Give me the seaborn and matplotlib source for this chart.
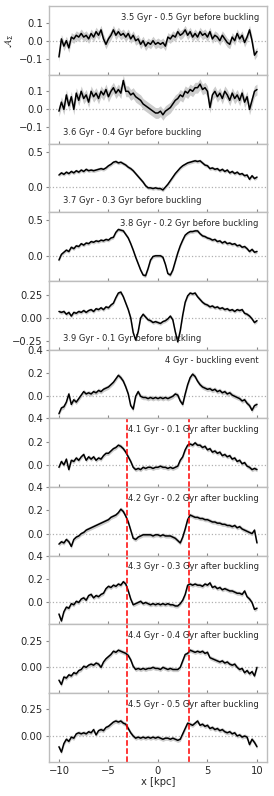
import numpy as np
import pandas as pd
import matplotlib
matplotlib.use("Agg")
import matplotlib.pyplot as plt
import seaborn as sns

# sample positions along the bar major axis [kpc]
x_kpc = np.arange(-10, 10.001, 0.25)

labels = [
    "3.5 Gyr - 0.5 Gyr before buckling",
    "3.6 Gyr - 0.4 Gyr before buckling",
    "3.7 Gyr - 0.3 Gyr before buckling",
    "3.8 Gyr - 0.2 Gyr before buckling",
    "3.9 Gyr - 0.1 Gyr before buckling",
    "4 Gyr - buckling event",
    "4.1 Gyr - 0.1 Gyr after buckling",
    "4.2 Gyr - 0.2 Gyr after buckling",
    "4.3 Gyr - 0.3 Gyr after buckling",
    "4.4 Gyr - 0.4 Gyr after buckling",
    "4.5 Gyr - 0.5 Gyr after buckling",
]

a_35 = [-0.09, 0.01, -0.03, 0.0, -0.04, 0.02, 0.01, 0.03, 0.02, 0.04, 0.02, 0.03, 0.01, 0.04, 0.02, 0.05,
        0.03, 0.06, 0.01, -0.02, 0.01, 0.03, 0.06, 0.03, 0.05, 0.03, 0.04, 0.02, 0.04, 0.01, 0.03, 0.0,
        0.01, -0.02, 0.0, -0.03, -0.01, -0.02, 0.0, -0.02, -0.01, -0.02, -0.01, -0.03, 0.02, 0.01, 0.03,
        0.02, 0.05, 0.03, 0.04, 0.06, 0.03, 0.05, 0.02, 0.04, 0.02, 0.05, 0.03, 0.04, 0.02, 0.05, 0.01,
        0.03, 0.02, 0.0, 0.03, 0.01, -0.01, -0.02, 0.02, 0.0, 0.04, 0.01, 0.03, -0.01, 0.02, 0.06, 0.0,
        -0.08, -0.06]
a_36 = [-0.01, 0.04, 0.0, 0.08, 0.02, 0.07, 0.0, 0.09, 0.05, 0.1, 0.06, 0.08, 0.04, 0.1, 0.07, 0.09,
        0.06, 0.1, 0.08, 0.11, 0.07, 0.1, 0.12, 0.09, 0.11, 0.09, 0.16, 0.1, 0.1, 0.08, 0.09, 0.07,
        0.06, 0.05, 0.03, 0.02, 0.01, 0.0, -0.01, -0.02, -0.02, -0.01, -0.03, -0.01, 0.0, 0.01, 0.03,
        0.05, 0.06, 0.08, 0.07, 0.1, 0.09, 0.11, 0.1, 0.12, 0.12, 0.14, 0.11, 0.12, 0.1, 0.01, 0.08,
        0.1, 0.07, 0.09, 0.06, 0.1, 0.08, 0.05, 0.09, 0.06, 0.08, 0.05, 0.09, 0.04, 0.07, 0.0, 0.05,
        0.1, 0.11]
a_37 = [0.17, 0.2, 0.18, 0.21, 0.19, 0.22, 0.2, 0.23, 0.21, 0.24, 0.22, 0.25, 0.23, 0.24, 0.23, 0.24,
        0.25, 0.26, 0.25, 0.27, 0.3, 0.32, 0.35, 0.36, 0.34, 0.35, 0.33, 0.31, 0.28, 0.26, 0.23, 0.19,
        0.15, 0.11, 0.07, 0.02, -0.01, -0.01, -0.02, -0.01, -0.02, -0.02, -0.04, 0.0, 0.04, 0.09, 0.14,
        0.19, 0.23, 0.27, 0.3, 0.32, 0.34, 0.35, 0.36, 0.37, 0.36, 0.37, 0.34, 0.31, 0.3, 0.26, 0.27,
        0.25, 0.26, 0.23, 0.25, 0.22, 0.24, 0.2, 0.22, 0.19, 0.21, 0.18, 0.19, 0.16, 0.17, 0.11, 0.16,
        0.12, 0.14]
a_38 = [-0.06, 0.02, 0.05, 0.08, 0.06, 0.12, 0.1, 0.14, 0.13, 0.17, 0.15, 0.18, 0.17, 0.2, 0.19, 0.21,
        0.2, 0.22, 0.21, 0.23, 0.22, 0.25, 0.26, 0.33, 0.37, 0.36, 0.35, 0.3, 0.25, 0.17, 0.08, -0.02,
        -0.11, -0.2, -0.27, -0.28, -0.18, -0.06, -0.01, 0.0, 0.0, 0.0, -0.02, -0.12, -0.25, -0.27, -0.2,
        -0.08, 0.04, 0.14, 0.22, 0.29, 0.32, 0.34, 0.34, 0.35, 0.35, 0.31, 0.28, 0.27, 0.25, 0.24, 0.22,
        0.23, 0.2, 0.21, 0.18, 0.2, 0.17, 0.18, 0.16, 0.17, 0.14, 0.15, 0.12, 0.13, 0.1, 0.06, 0.09,
        0.05, 0.06]
a_39 = [0.07, 0.06, 0.07, 0.04, 0.06, 0.02, 0.06, 0.05, 0.07, 0.06, 0.08, 0.06, 0.08, 0.09, 0.07, 0.1,
        0.09, 0.11, 0.09, 0.12, 0.11, 0.14, 0.16, 0.22, 0.27, 0.28, 0.23, 0.16, 0.09, 0.0, -0.16, -0.24,
        -0.15, 0.0, 0.04, 0.01, -0.02, -0.03, -0.05, -0.04, -0.05, -0.06, -0.04, -0.03, -0.01, 0.02,
        -0.02, -0.15, -0.26, -0.14, 0.03, 0.17, 0.24, 0.27, 0.26, 0.27, 0.23, 0.2, 0.17, 0.15, 0.14,
        0.12, 0.13, 0.11, 0.12, 0.1, 0.11, 0.09, 0.1, 0.08, 0.09, 0.07, 0.09, 0.08, 0.09, 0.05, 0.04,
        0.02, -0.01, -0.05, -0.03]
a_40 = [-0.15, -0.1, -0.09, -0.05, 0.02, -0.07, -0.03, -0.05, -0.02, 0.01, 0.04, 0.02, 0.03, 0.02, 0.04,
        0.03, 0.05, 0.04, 0.06, 0.07, 0.08, 0.1, 0.12, 0.15, 0.18, 0.16, 0.13, 0.08, 0.02, -0.08, -0.11,
        0.0, 0.04, 0.0, -0.01, -0.01, -0.02, -0.01, -0.02, -0.01, -0.02, -0.01, -0.02, -0.01, -0.02,
        -0.01, 0.0, 0.02, 0.01, -0.04, -0.07, 0.02, 0.1, 0.16, 0.19, 0.17, 0.13, 0.1, 0.08, 0.07, 0.06,
        0.065, 0.05, 0.06, 0.04, 0.05, 0.03, 0.04, 0.02, 0.03, 0.01, 0.0, -0.01, -0.02, -0.04, -0.03,
        -0.06, -0.08, -0.12, -0.08, -0.07]
a_41 = [-0.02, 0.03, 0.0, 0.05, -0.04, 0.04, 0.03, 0.06, 0.04, 0.07, 0.09, 0.04, 0.07, 0.05, 0.07, 0.04,
        0.06, 0.05, 0.08, 0.1, 0.1, 0.12, 0.14, 0.15, 0.17, 0.16, 0.14, 0.11, 0.07, 0.03, -0.02, -0.04,
        -0.03, -0.04, -0.02, -0.03, -0.02, -0.02, -0.03, -0.02, -0.02, -0.01, -0.02, -0.02, -0.03,
        -0.02, -0.03, -0.02, -0.01, 0.04, 0.07, 0.13, 0.17, 0.18, 0.17, 0.19, 0.17, 0.17, 0.15, 0.16,
        0.13, 0.14, 0.11, 0.12, 0.1, 0.11, 0.08, 0.09, 0.07, 0.08, 0.05, 0.06, 0.03, 0.04, 0.01, 0.02,
        -0.01, -0.02, -0.04, -0.03, -0.04]
a_42 = [-0.09, -0.07, -0.08, -0.05, -0.07, -0.11, -0.05, -0.03, -0.02, 0.0, 0.01, 0.03, 0.04, 0.05, 0.06,
        0.07, 0.08, 0.09, 0.1, 0.11, 0.12, 0.14, 0.15, 0.16, 0.18, 0.21, 0.19, 0.15, 0.1, 0.03, -0.04,
        -0.05, -0.03, -0.02, -0.01, -0.01, -0.01, -0.01, -0.02, -0.01, -0.01, -0.02, -0.01, -0.02,
        -0.02, -0.02, -0.03, -0.04, -0.06, -0.08, -0.03, 0.04, 0.12, 0.16, 0.15, 0.14, 0.14, 0.13, 0.13,
        0.12, 0.12, 0.11, 0.1, 0.1, 0.09, 0.09, 0.08, 0.08, 0.07, 0.07, 0.06, 0.07, 0.05, 0.06, 0.04,
        0.03, 0.02, 0.01, 0.0, 0.03, -0.08]
a_43 = [-0.1, -0.16, -0.08, -0.04, -0.05, -0.01, -0.02, 0.01, 0.0, 0.03, 0.04, 0.02, 0.06, 0.07, 0.04,
        0.06, 0.05, 0.07, 0.08, 0.12, 0.14, 0.13, 0.15, 0.14, 0.16, 0.15, 0.18, 0.16, 0.1, 0.03, -0.02,
        -0.01, 0.0, 0.01, -0.01, 0.0, -0.01, -0.02, -0.01, -0.02, -0.01, -0.02, -0.01, -0.02, -0.01,
        -0.02, -0.02, -0.03, -0.03, -0.01, 0.02, 0.07, 0.15, 0.16, 0.15, 0.16, 0.15, 0.15, 0.14, 0.16,
        0.15, 0.17, 0.13, 0.14, 0.12, 0.13, 0.11, 0.12, 0.11, 0.1, 0.1, 0.09, 0.08, 0.08, 0.07, 0.1,
        0.05, 0.03, 0.0, -0.06, -0.05]
a_44 = [-0.12, -0.16, -0.09, -0.1, -0.07, -0.08, -0.05, -0.06, -0.03, -0.02, 0.01, 0.0, 0.02, 0.03, 0.02,
        0.04, 0.03, 0.0, 0.05, 0.08, 0.1, 0.12, 0.15, 0.14, 0.16, 0.15, 0.14, 0.13, 0.11, 0.07, 0.01,
        -0.02, -0.01, -0.02, -0.01, -0.02, -0.01, -0.01, 0.0, -0.01, -0.01, -0.02, 0.0, -0.01, -0.02,
        -0.01, -0.02, -0.02, -0.02, 0.0, 0.06, 0.12, 0.13, 0.16, 0.15, 0.14, 0.15, 0.14, 0.15, 0.13,
        0.14, 0.09, 0.08, 0.07, 0.06, 0.05, 0.06, 0.04, 0.05, 0.03, 0.02, 0.03, 0.0, -0.02, -0.01,
        -0.05, -0.03, -0.06, -0.04, -0.08, 0.0]
a_45 = [-0.1, -0.15, -0.07, -0.03, -0.05, -0.01, -0.02, 0.02, 0.03, 0.02, 0.03, 0.02, 0.04, 0.03, 0.06,
        0.01, 0.05, 0.06, 0.05, 0.08, 0.09, 0.11, 0.13, 0.14, 0.13, 0.14, 0.12, 0.11, 0.07, 0.03, 0.0,
        -0.02, -0.01, -0.02, -0.01, -0.02, -0.01, -0.02, -0.01, -0.02, -0.01, -0.02, -0.03, -0.02,
        -0.02, -0.03, -0.02, -0.03, -0.04, -0.03, 0.02, 0.07, 0.12, 0.11, 0.1, 0.12, 0.14, 0.1, 0.11,
        0.09, 0.1, 0.07, 0.08, 0.06, 0.07, 0.05, 0.06, 0.04, 0.03, 0.04, 0.02, 0.03, 0.0, 0.01, -0.01,
        0.0, -0.01, -0.08, -0.03, -0.06, -0.1]

profiles = [a_35, a_36, a_37, a_38, a_39, a_40, a_41, a_42, a_43, a_44, a_45]
# typical half-width of the shaded uncertainty band in each snapshot
band_err = [0.025, 0.03, 0.025, 0.025, 0.02, 0.02, 0.018, 0.018, 0.018, 0.02, 0.02]
bar_edge = 3.1  # kpc, marked after buckling

ylims = [(-0.19, 0.19), (-0.19, 0.19), (-0.355, 0.61), (-0.355, 0.61), (-0.345, 0.40),
         (-0.19, 0.40), (-0.19, 0.40), (-0.19, 0.40), (-0.19, 0.405), (-0.24, 0.40), (-0.24, 0.40)]
yticks = [[-0.1, 0.0, 0.1], [-0.1, 0.0, 0.1], [0.0, 0.5], [0.0, 0.5], [-0.25, 0.0, 0.25],
          [0.0, 0.2, 0.4], [0.0, 0.2, 0.4], [0.0, 0.2, 0.4], [0.0, 0.2, 0.4], [0.0, 0.25], [0.0, 0.25]]
label_low = [False, True, True, False, True, False, False, False, False, False, False]

sns.set_style("white")
plt.rcParams["font.family"] = ["DejaVu Sans"]

fig, axes = plt.subplots(11, 1, sharex=True, figsize=(2.74, 7.96), dpi=100)
fig.subplots_adjust(left=0.179, right=0.974, top=0.992, bottom=0.043, hspace=0)

for i, ax in enumerate(axes):
    y = np.asarray(profiles[i])
    df = pd.DataFrame({"x": x_kpc, "A": y})
    ax.fill_between(x_kpc, y - band_err[i], y + band_err[i], color="#cccccc", lw=0)
    sns.lineplot(data=df, x="x", y="A", ax=ax, color="k", lw=1.1, errorbar=None)
    ax.axhline(0, color="#b0b0b0", ls=":", lw=0.9, zorder=0)
    if i >= 6:
        for xv in (-bar_edge, bar_edge):
            ax.axvline(xv, color="red", ls="--", lw=1.1)
    ax.set_ylim(*ylims[i])
    ax.set_yticks(yticks[i])
    ax.set_xlim(-11, 11)
    ax.set_xticks([-10, -5, 0, 5, 10])
    ax.set_ylabel("")
    ax.set_xlabel("")
    if label_low[i]:
        ax.text(0.065, 0.17, labels[i], transform=ax.transAxes, ha="left", va="center", fontsize=6)
    else:
        ax.text(0.963, 0.84, labels[i], transform=ax.transAxes, ha="right", va="center", fontsize=6)
    for sp in ax.spines.values():
        sp.set_color("#bdbdbd")
        sp.set_linewidth(1.0)
    ax.tick_params(axis="y", labelsize=7.2, length=2.5, width=0.8, color="#888888", pad=2, left=True)
    ax.tick_params(axis="x", labelsize=7.2, length=2, width=0.8, color="#888888", direction="in",
                   pad=3, bottom=True)

axes[0].set_ylabel(r"$\mathcal{A}_\Sigma$", fontsize=7, labelpad=2)
axes[-1].set_xlabel("x [kpc]", fontsize=7.2, labelpad=1)

fig.savefig("out.png", dpi=100)
